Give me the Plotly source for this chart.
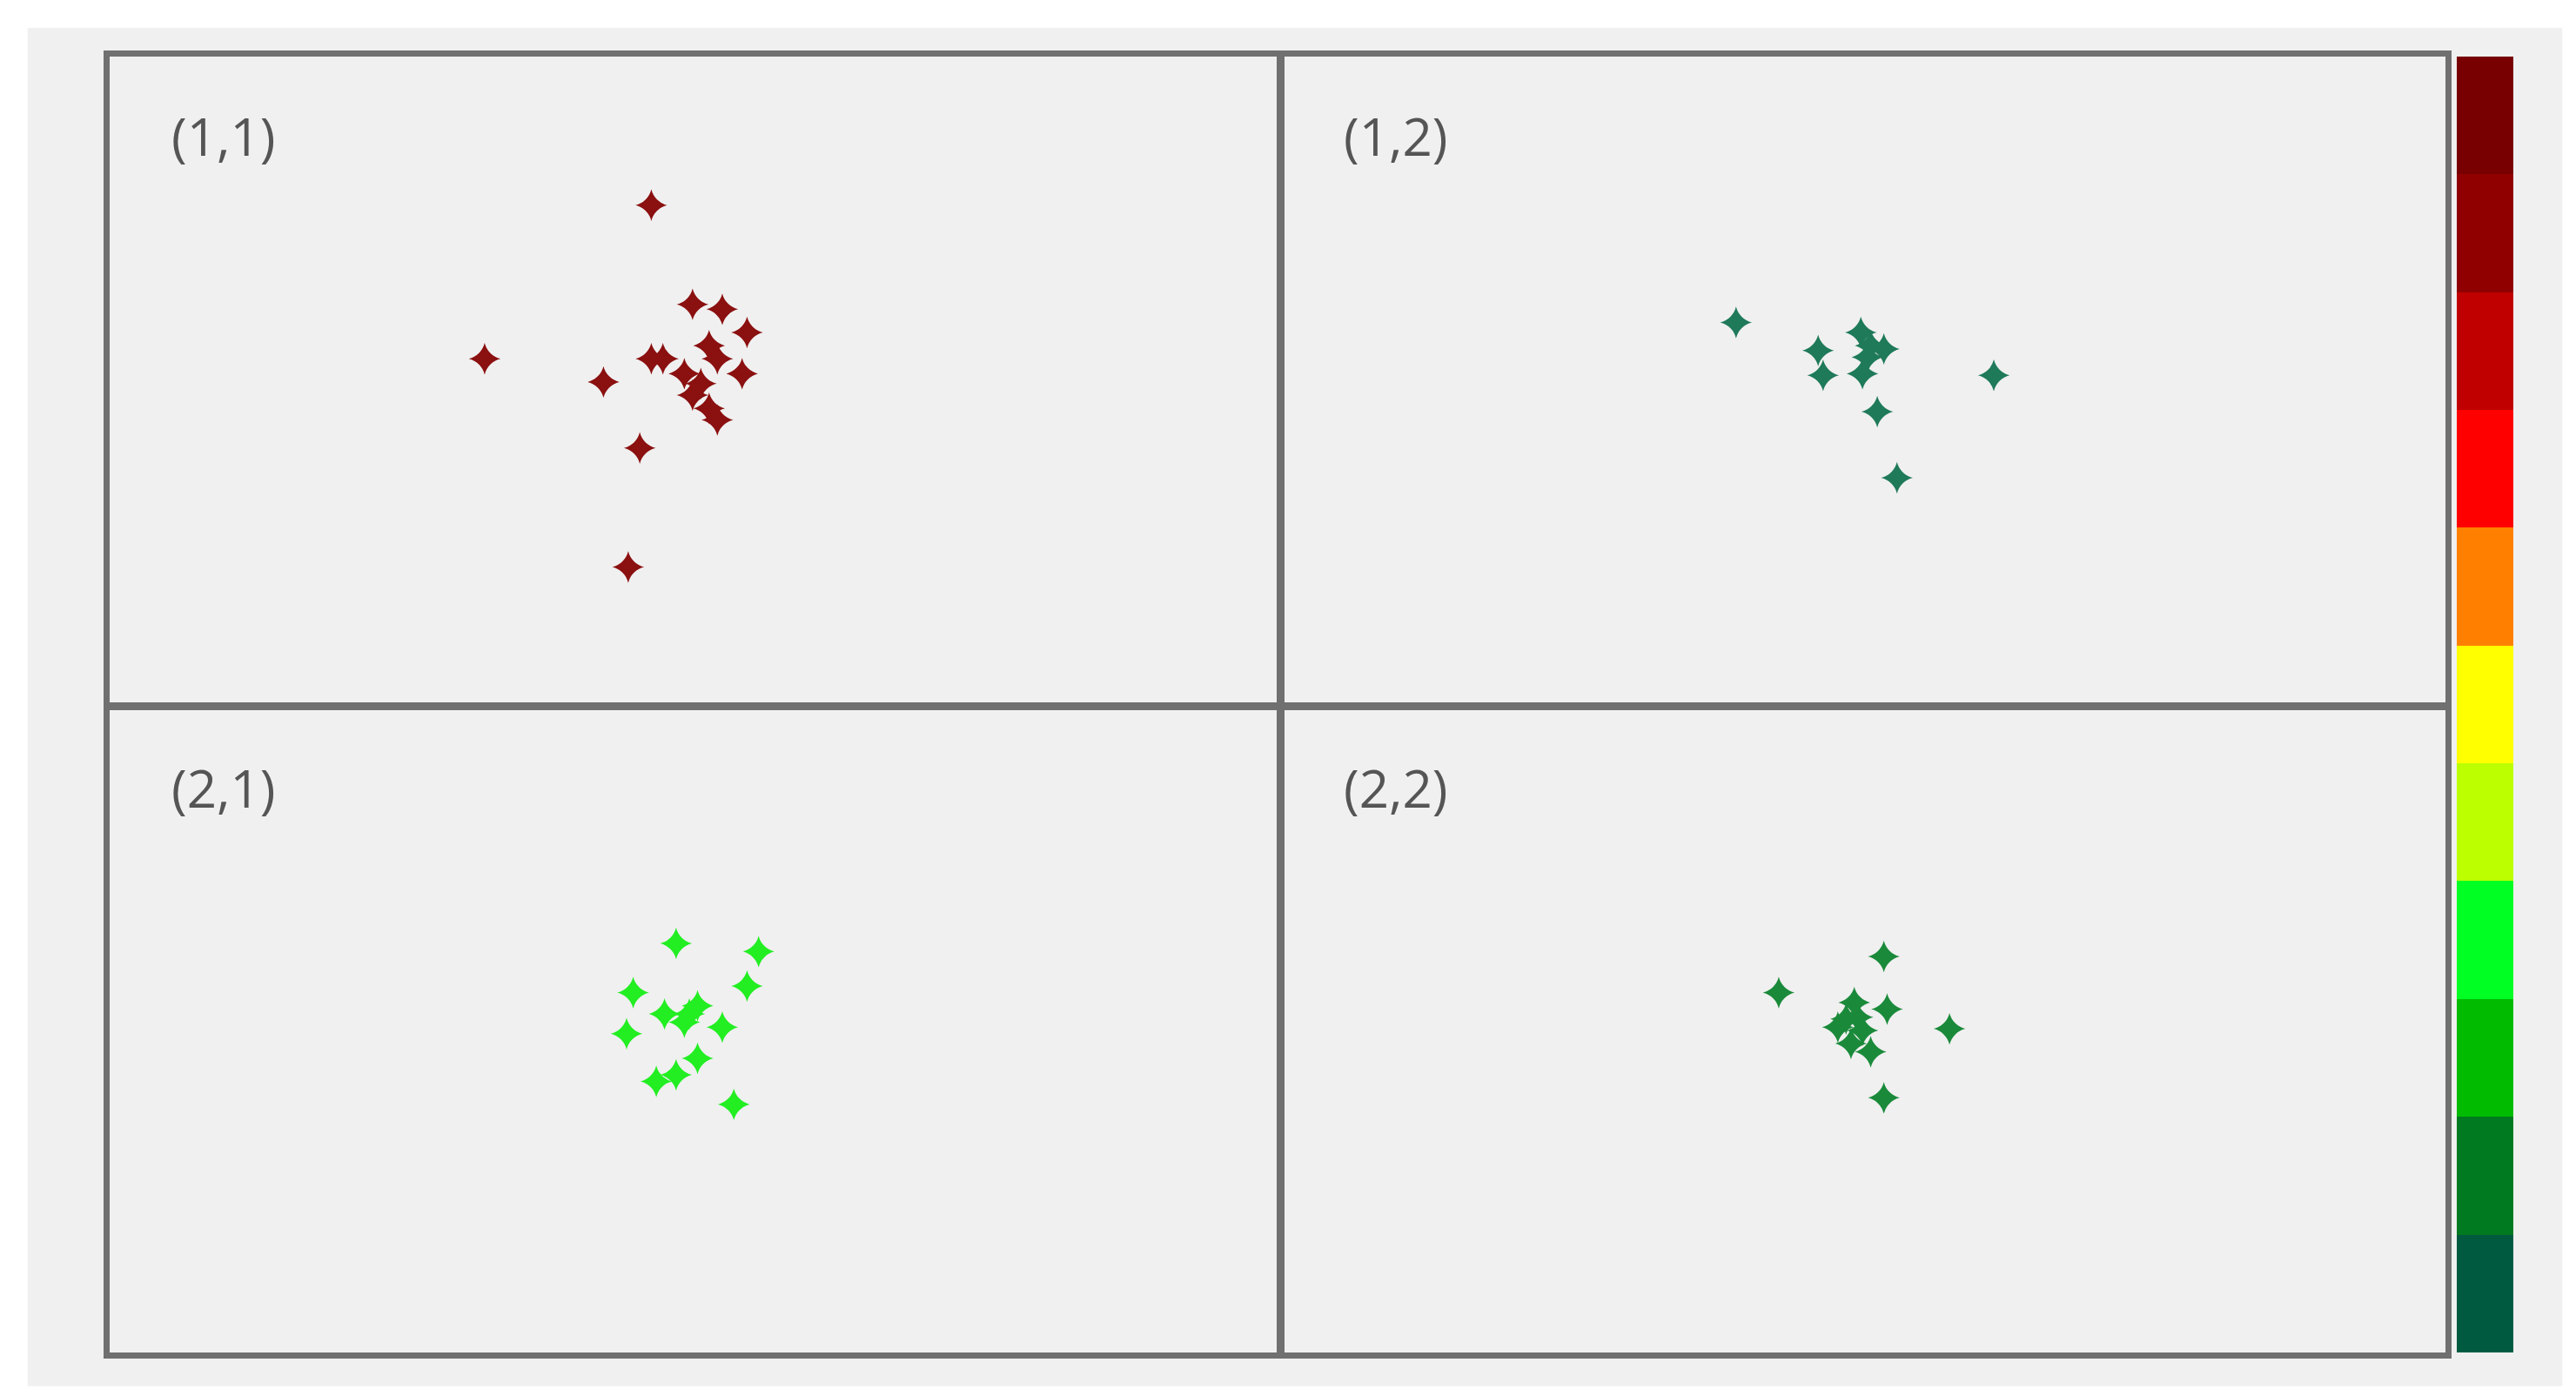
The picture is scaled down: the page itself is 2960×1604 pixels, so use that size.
import plotly.graph_objects as go

# point positions inside each panel (panel units: 708 wide, 392 tall, y down)
p11_x = [328, 227, 299, 328, 335, 353, 371, 386, 363, 368, 383, 358, 353, 363, 368, 321, 314, 348]
p11_y = [90, 183, 197, 183, 183, 150, 153, 167, 175, 183, 192, 198, 205, 213, 220, 237, 309, 192]
p12_x = [276, 326, 329, 352, 358, 366, 353, 433, 362, 374, 356]
p12_y = [161, 178, 193, 167, 175, 177, 192, 193, 215, 255, 182]
p21_x = [343, 393, 317, 386, 336, 356, 351, 313, 371, 356, 343, 331, 378, 348]
p21_y = [143, 148, 173, 169, 186, 181, 186, 198, 194, 213, 223, 227, 241, 191]
p22_x = [366, 302, 348, 368, 343, 338, 353, 406, 346, 358, 366, 350]
p22_y = [151, 173, 179, 183, 189, 194, 196, 195, 204, 209, 237, 188]

panels = [("(1,1)", p11_x, p11_y, "#8b1010"),
          ("(1,2)", p12_x, p12_y, "#1f7a5a"),
          ("(2,1)", p21_x, p21_y, "#22ee22"),
          ("(2,2)", p22_x, p22_y, "#1a8a3a")]

bar_colors = ["#005a40", "#007a20", "#00bb00", "#00ff22", "#bbff00", "#ffff00",
              "#ff8000", "#ff0000", "#c00000", "#900000", "#780000"]

xdom = [[0.040, 0.4936], [0.4953, 0.9466]]
ydom = [[0.5006, 0.9645], [0.0362, 0.4975]]

fig = go.Figure()
layout = {}
for i, (label, xs, ys, col) in enumerate(panels):
    r, c = divmod(i, 2)
    n = str(i + 1) if i else ""
    fig.add_trace(go.Scatter(x=xs, y=ys, mode="markers", xaxis="x" + n, yaxis="y" + n,
                             marker=dict(symbol="star-diamond", size=26, color=col),
                             showlegend=False))
    ax = dict(showgrid=False, zeroline=False, showticklabels=False, ticks="",
              showline=True, mirror=True, linecolor="#707070", linewidth=7)
    layout["xaxis" + n] = dict(ax, domain=xdom[c], range=[0, 708], anchor="y" + n)
    layout["yaxis" + n] = dict(ax, domain=ydom[r], range=[392, 0], anchor="x" + n)
    fig.add_annotation(x=36, y=48, xref="x" + n, yref="y" + n, text=label, showarrow=False,
                       xanchor="left", font=dict(size=60, color="#555555", family="Open Sans"))

# discrete colour bar on its own axis
fig.add_trace(go.Heatmap(z=[[k] for k in range(len(bar_colors))], xaxis="x5", yaxis="y5",
                         colorscale=[[k / 10, c] for k, c in enumerate(bar_colors)],
                         showscale=False, hoverinfo="skip"))
layout["xaxis5"] = dict(domain=[0.951, 0.973], visible=False, anchor="y5")
layout["yaxis5"] = dict(domain=[0.0362, 0.9645], visible=False, anchor="x5", range=[-0.5, 10.5])

fig.update_layout(**layout)
fig.add_shape(type="rect", xref="paper", yref="paper", x0=0.008, x1=0.992, y0=0.012, y1=0.985,
              fillcolor="#f0f0f0", line_width=0, layer="below")
fig.update_layout(width=2960, height=1604, margin=dict(l=0, r=0, t=0, b=0),
                  paper_bgcolor="white", plot_bgcolor="#efefef")
fig.write_html("out.html")
